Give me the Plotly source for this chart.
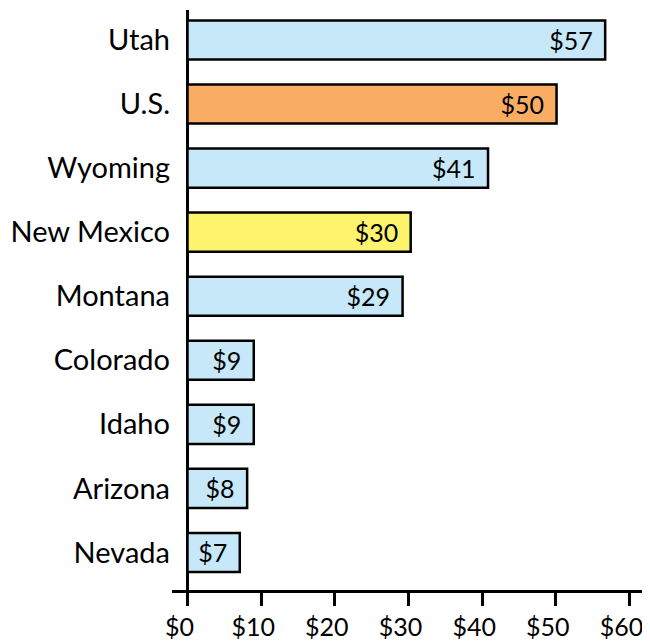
import plotly.graph_objects as go

categories = ["Utah", "U.S.", "Wyoming", "New Mexico", "Montana",
              "Colorado", "Idaho", "Arizona", "Nevada"]
values = [56.7, 50.1, 40.8, 30.3, 29.2, 9.0, 9.0, 8.1, 7.1]
bar_colors = ["#C6E8F8", "#F9AD62", "#C6E8F8", "#FDF36C", "#C6E8F8",
              "#C6E8F8", "#C6E8F8", "#C6E8F8", "#C6E8F8"]
tick_vals = [0, 10, 20, 30, 40, 50, 60]
tick_text = ["$0", "$10", "$20", "$30", "$40", "$50", "$60"]

FONT = "Lato"
FS_BAR = 25
FS_TICK = 25
FS_CAT = 29

fig = go.Figure()
fig.add_trace(go.Bar(
    x=values, y=categories, orientation="h",
    marker=dict(color=bar_colors, line=dict(color="black", width=2.5)),
    width=0.61,
    texttemplate="$%{x:.0f}\u00a0\u2009", textposition="inside", insidetextanchor="end",
    constraintext="none",
    textfont=dict(family=FONT, size=FS_BAR, color="black"),
    hoverinfo="skip",
))

xr = [-2.1, 61.7]
# the page body adds an 8px offset, so the figure is smaller and margins shifted
fig.update_layout(
    width=634, height=634,
    margin=dict(l=164, r=0, t=2, b=52, autoexpand=False),
    paper_bgcolor="white", plot_bgcolor="white",
    showlegend=False,
    font=dict(family=FONT, size=FS_BAR, color="black"),
    xaxis=dict(
        range=xr, tickvals=tick_vals, ticktext=tick_text,
        showgrid=False, zeroline=True, zerolinecolor="black", zerolinewidth=2.5,
        showline=True, linecolor="black", linewidth=2.5,
        ticks="outside", ticklen=13, tickwidth=2.5, tickcolor="black",
        tickfont=dict(family=FONT, size=FS_TICK, color="black"),
        ticklabelshift=-8, ticklabeloverflow="allow",
        layer="above traces", fixedrange=True, automargin=False,
    ),
    xaxis2=dict(
        range=xr, overlaying="x", anchor="y", side="bottom",
        tickvals=tick_vals, showticklabels=False,
        showgrid=False, zeroline=False, showline=False,
        ticks="inside", ticklen=12, tickwidth=2.5, tickcolor="black",
        automargin=False,
    ),
    yaxis=dict(
        categoryorder="array", categoryarray=categories,
        range=[8.586, -0.468],
        showgrid=False, zeroline=False, showline=False, ticks="",
        ticklabelstandoff=1,
        tickfont=dict(family=FONT, size=FS_CAT, color="black"),
        fixedrange=True, automargin=False,
    ),
)

fig.write_html("out.html")
